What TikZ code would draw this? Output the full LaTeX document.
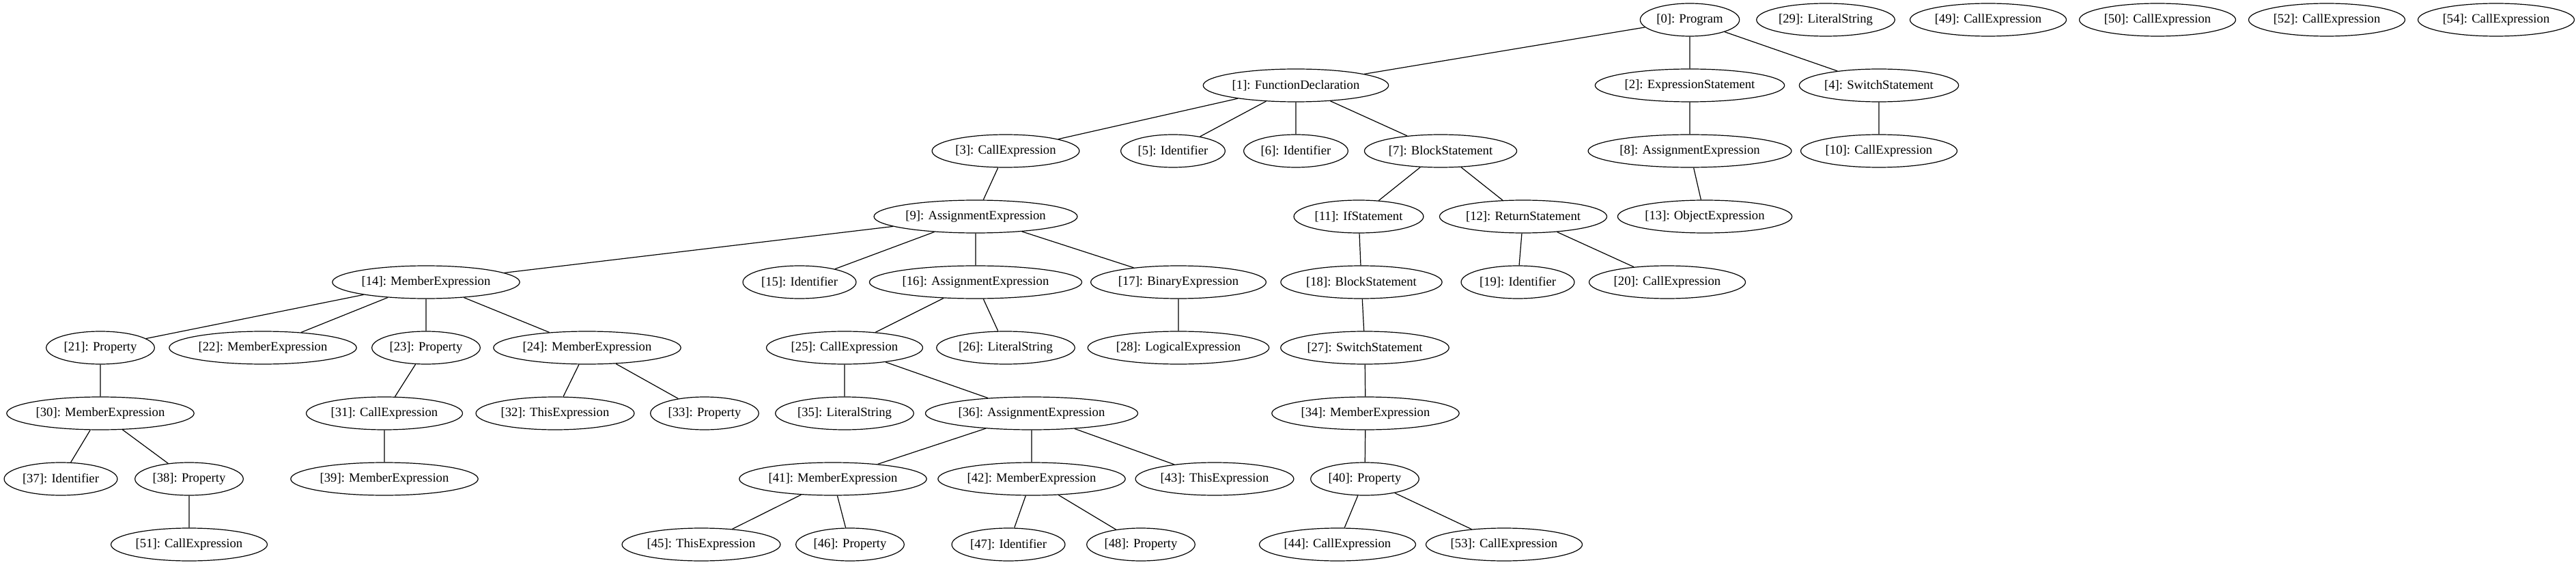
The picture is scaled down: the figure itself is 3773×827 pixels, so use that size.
\documentclass[tikz,border=0pt]{standalone}
\usepackage{fontspec}
\setmainfont{Liberation Serif}
\usetikzlibrary{shapes.geometric}

\begin{document}
\begin{tikzpicture}[
        x=0.75pt, y=-0.75pt,
        font=\fontsize{14pt}{17pt}\selectfont,
        astnode/.style={
            ellipse,
            draw=black,
            line width=0.9pt,
            inner xsep=2pt,
            inner ysep=1pt,
            minimum height=36pt
        },
        edge/.style={
            draw=black,
            line width=0.9pt
        }
    ]

    \useasboundingbox (0,0) rectangle (3773,827);

    % Rank 0: root and loose nodes
    \node[astnode] (n0) at (2475,29) {[0]: Program};
    \node[astnode] (n29) at (2674,29) {[29]: LiteralString};
    \node[astnode] (n49) at (2912,29) {[49]: CallExpression};
    \node[astnode] (n50) at (3160,29) {[50]: CallExpression};
    \node[astnode] (n52) at (3408,29) {[52]: CallExpression};
    \node[astnode] (n54) at (3656,29) {[54]: CallExpression};

    % Rank 1
    \node[astnode] (n1) at (1898,125) {[1]: FunctionDeclaration};
    \node[astnode] (n2) at (2475,125) {[2]: ExpressionStatement};
    \node[astnode] (n4) at (2752,125) {[4]: SwitchStatement};

    % Rank 2
    \node[astnode] (n3) at (1473,221) {[3]: CallExpression};
    \node[astnode] (n5) at (1718,221) {[5]: Identifier};
    \node[astnode] (n6) at (1898,221) {[6]: Identifier};
    \node[astnode] (n7) at (2110,221) {[7]: BlockStatement};
    \node[astnode] (n8) at (2475,221) {[8]: AssignmentExpression};
    \node[astnode] (n10) at (2752,221) {[10]: CallExpression};

    % Rank 3
    \node[astnode] (n9) at (1429,317) {[9]: AssignmentExpression};
    \node[astnode] (n11) at (1990,317) {[11]: IfStatement};
    \node[astnode] (n12) at (2231,317) {[12]: ReturnStatement};
    \node[astnode] (n13) at (2497,317) {[13]: ObjectExpression};

    % Rank 4
    \node[astnode] (n14) at (624,413) {[14]: MemberExpression};
    \node[astnode] (n15) at (1171,413) {[15]: Identifier};
    \node[astnode] (n16) at (1429,413) {[16]: AssignmentExpression};
    \node[astnode] (n17) at (1726,413) {[17]: BinaryExpression};
    \node[astnode] (n18) at (1994,413) {[18]: BlockStatement};
    \node[astnode] (n19) at (2223,413) {[19]: Identifier};
    \node[astnode] (n20) at (2442,413) {[20]: CallExpression};

    % Rank 5
    \node[astnode] (n21) at (147,509) {[21]: Property};
    \node[astnode] (n22) at (385,509) {[22]: MemberExpression};
    \node[astnode] (n23) at (624,509) {[23]: Property};
    \node[astnode] (n24) at (860,509) {[24]: MemberExpression};
    \node[astnode] (n25) at (1237,509) {[25]: CallExpression};
    \node[astnode] (n26) at (1473,509) {[26]: LiteralString};
    \node[astnode] (n28) at (1726,509) {[28]: LogicalExpression};
    \node[astnode] (n27) at (1999,509) {[27]: SwitchStatement};

    % Rank 6
    \node[astnode] (n30) at (147,605) {[30]: MemberExpression};
    \node[astnode] (n31) at (563,605) {[31]: CallExpression};
    \node[astnode] (n32) at (813,605) {[32]: ThisExpression};
    \node[astnode] (n33) at (1032,605) {[33]: Property};
    \node[astnode] (n35) at (1237,605) {[35]: LiteralString};
    \node[astnode] (n36) at (1511,605) {[36]: AssignmentExpression};
    \node[astnode] (n34) at (2000,605) {[34]: MemberExpression};

    % Rank 7
    \node[astnode] (n37) at (89,701) {[37]: Identifier};
    \node[astnode] (n38) at (277,701) {[38]: Property};
    \node[astnode] (n39) at (563,701) {[39]: MemberExpression};
    \node[astnode] (n41) at (1220,701) {[41]: MemberExpression};
    \node[astnode] (n42) at (1511,701) {[42]: MemberExpression};
    \node[astnode] (n43) at (1779,701) {[43]: ThisExpression};
    \node[astnode] (n40) at (1999,701) {[40]: Property};

    % Rank 8
    \node[astnode] (n51) at (277,797) {[51]: CallExpression};
    \node[astnode] (n45) at (1027,797) {[45]: ThisExpression};
    \node[astnode] (n46) at (1245,797) {[46]: Property};
    \node[astnode] (n47) at (1477,797) {[47]: Identifier};
    \node[astnode] (n48) at (1671,797) {[48]: Property};
    \node[astnode] (n44) at (1959,797) {[44]: CallExpression};
    \node[astnode] (n53) at (2203,797) {[53]: CallExpression};

    % Tree edges
    \draw[edge] (n0) -- (n1) (n0) -- (n2) (n0) -- (n4);
    \draw[edge] (n1) -- (n3) (n1) -- (n5) (n1) -- (n6) (n1) -- (n7);
    \draw[edge] (n2) -- (n8) (n4) -- (n10) (n3) -- (n9);
    \draw[edge] (n7) -- (n11) (n7) -- (n12) (n8) -- (n13);
    \draw[edge] (n9) -- (n14) (n9) -- (n15) (n9) -- (n16) (n9) -- (n17);
    \draw[edge] (n11) -- (n18) (n12) -- (n19) (n12) -- (n20);
    \draw[edge] (n14) -- (n21) (n14) -- (n22) (n14) -- (n23) (n14) -- (n24);
    \draw[edge] (n16) -- (n25) (n16) -- (n26) (n17) -- (n28) (n18) -- (n27);
    \draw[edge] (n21) -- (n30) (n23) -- (n31) (n24) -- (n32) (n24) -- (n33);
    \draw[edge] (n25) -- (n35) (n25) -- (n36) (n27) -- (n34);
    \draw[edge] (n30) -- (n37) (n30) -- (n38) (n31) -- (n39) (n34) -- (n40);
    \draw[edge] (n36) -- (n41) (n36) -- (n42) (n36) -- (n43);
    \draw[edge] (n38) -- (n51) (n40) -- (n44) (n40) -- (n53);
    \draw[edge] (n41) -- (n45) (n41) -- (n46) (n42) -- (n47) (n42) -- (n48);

\end{tikzpicture}
\end{document}
